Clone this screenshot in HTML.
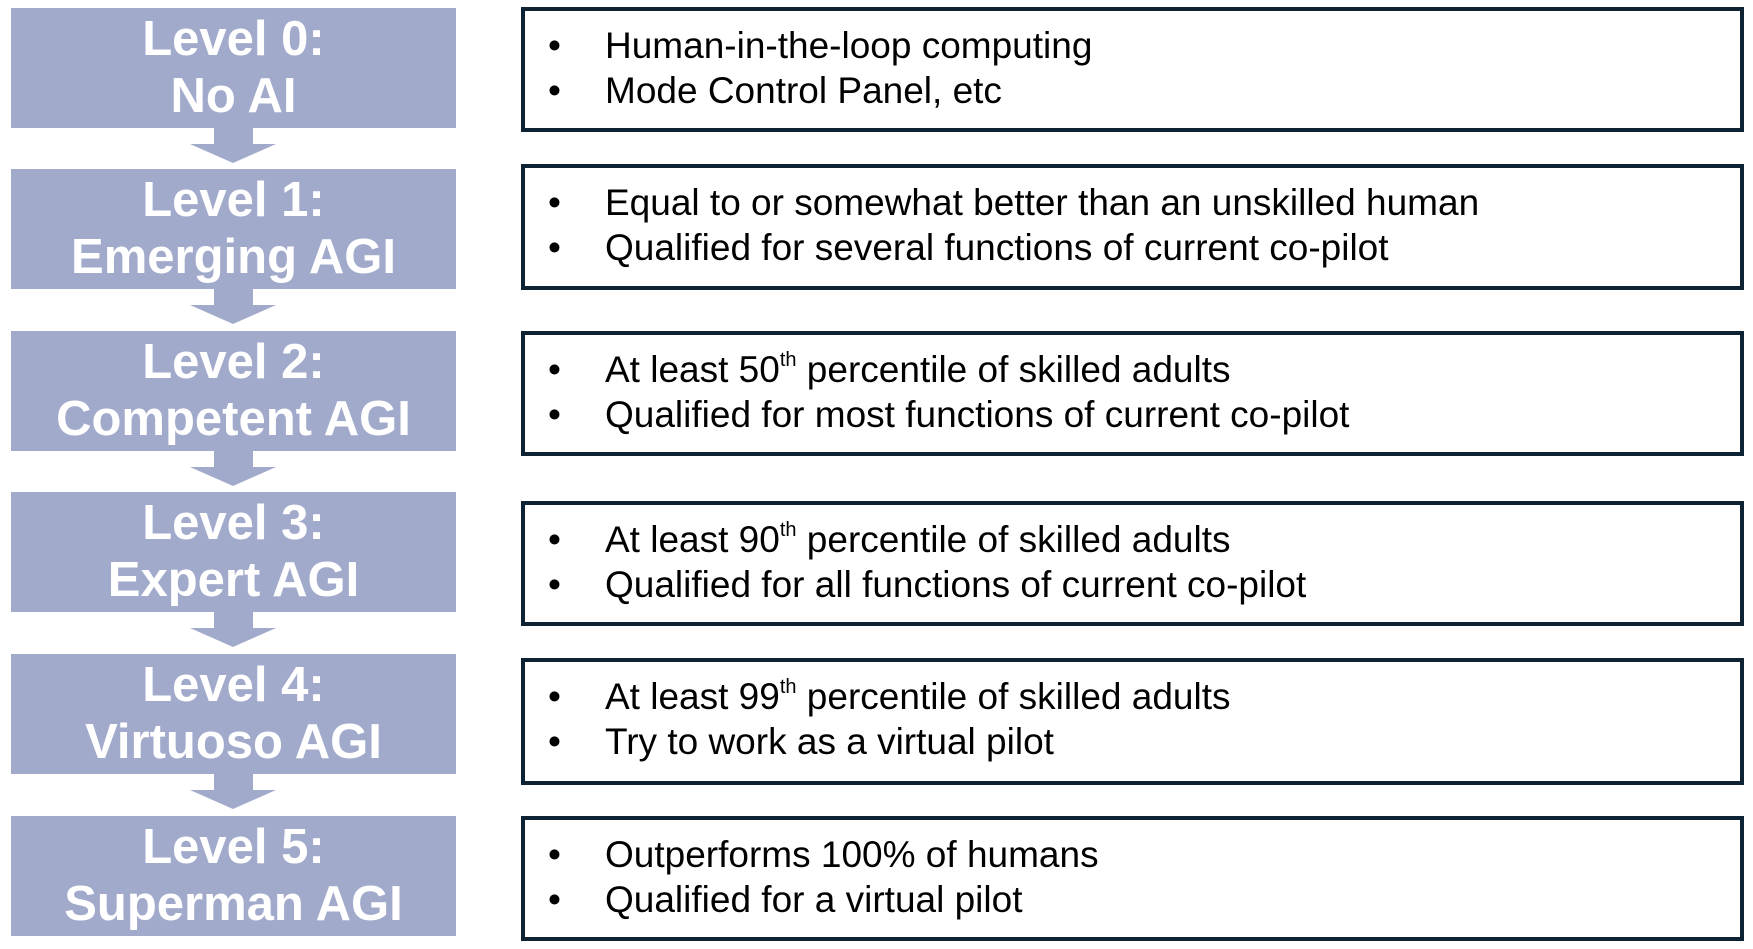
<!DOCTYPE html>
<html><head><meta charset="utf-8"><style>
body{margin:0;width:1753px;height:949px;background:#fff;position:relative;overflow:hidden;font-family:"Liberation Sans",Arial,sans-serif}
.lv{position:absolute;left:11px;width:445px;height:120px;background:#a2aacc}
.lt{position:absolute;left:0;width:445px;text-align:center;color:#fff;font-weight:bold;font-size:49px;line-height:1}
.ar{position:absolute;left:190px;width:86px;height:36px}
.bx{position:absolute;left:521px;width:1223px;border:4px solid #0d2233;box-sizing:border-box}
.li{position:absolute;left:0;font-size:37px;color:#000;line-height:1;white-space:nowrap}
.b{position:absolute;left:23px}
.t{position:absolute;left:80px}
sup{font-size:20px;vertical-align:16px;line-height:0}
</style></head><body>
<script>
const levels=[["Level 0:","No AI"],["Level 1:","Emerging AGI"],["Level 2:","Competent AGI"],["Level 3:","Expert AGI"],["Level 4:","Virtuoso AGI"],["Level 5:","Superman AGI"]];
const descs=[["Human-in-the-loop computing","Mode Control Panel, etc"],["Equal to or somewhat better than an unskilled human","Qualified for several functions of current co-pilot"],["At least 50<sup>th</sup> percentile of skilled adults","Qualified for most functions of current co-pilot"],["At least 90<sup>th</sup> percentile of skilled adults","Qualified for all functions of current co-pilot"],["At least 99<sup>th</sup> percentile of skilled adults","Try to work as a virtual pilot"],["Outperforms 100% of humans","Qualified for a virtual pilot"]];
const levelTops=[8,169,331,492,654,816];
const boxTops=[7,164,331,501,658,816];
const boxBots=[132,290,456,626,785,941];
const root=document.body;
levels.forEach((l,i)=>{
  const top=levelTops[i];
  const d=document.createElement('div');d.className='lv';d.style.top=top+'px';
  
  
  l.forEach((s,j)=>{const t=document.createElement('div');t.className='lt';t.style.top=(j?64:7)+'px';t.textContent=s;
    
    
    d.appendChild(t);});
  root.appendChild(d);
  if(i<5){
    const a=document.createElementNS('http://www.w3.org/2000/svg','svg');a.setAttribute('class','ar');
    a.style.top=(top+119)+'px';a.setAttribute('width','86');a.setAttribute('height','36');
    a.innerHTML='<polygon points="24,0 63,0 63,17 86,17 43,36 0,17 24,17" fill="#a2aacc"/>';
    
    
    root.appendChild(a);
  }
  const b=document.createElement('div');b.className='bx';b.style.top=boxTops[i]+'px';b.style.height=(boxBots[i]-boxTops[i])+'px';
  
  
  descs[i].forEach((s,j)=>{const r=document.createElement('div');r.className='li';r.style.top=(j?61:16)+'px';
    r.innerHTML='<span class="b">•</span><span class="t">'+s+'</span>';
    
    
    b.appendChild(r);});
  root.appendChild(b);
});
</script>
</body></html>
